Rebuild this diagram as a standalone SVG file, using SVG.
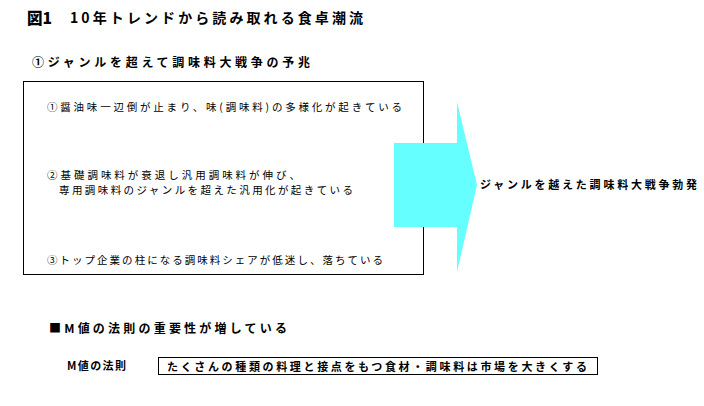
<svg xmlns="http://www.w3.org/2000/svg" width="704" height="406" viewBox="0 0 704 406">
<style>
text{font-family:"Noto Sans CJK JP","Noto Sans",sans-serif;fill:#000;dominant-baseline:central}
.t{font-size:14px;font-weight:bold}
.h{font-size:12px;font-weight:bold}
.b{font-size:10.5px}
.r{font-size:11px;font-weight:bold}
.box{fill:#fff;stroke:#000;stroke-width:1}
</style>
<rect width="704" height="406" fill="#fff"/>
<g id="title">
<text class="t" x="27" y="17" style="font-size:16px;font-weight:900" textLength="25" lengthAdjust="spacingAndGlyphs">図1</text>
<text class="t" x="70" y="17" textLength="293" lengthAdjust="spacing">10年トレンドから読み取れる食卓潮流</text>
</g>
<g id="heading1">
<text class="h" x="32" y="61" textLength="278" lengthAdjust="spacing">①ジャンルを超えて調味料大戦争の予兆</text>
</g>
<g id="trend-box">
<rect class="box" x="23.5" y="81.5" width="400" height="193"/>
<text class="b" x="47" y="106" textLength="355" lengthAdjust="spacing">①醤油味一辺倒が止まり、味(調味料)の多様化が起きている</text>
<text class="b" x="47" y="174" textLength="253" lengthAdjust="spacing">②基礎調味料が衰退し汎用調味料が伸び、</text>
<text class="b" x="59" y="189" textLength="294" lengthAdjust="spacing">専用調味料のジャンルを超えた汎用化が起きている</text>
<text class="b" x="47" y="259" textLength="336" lengthAdjust="spacing">③トップ企業の柱になる調味料シェアが低迷し、落ちている</text>
</g>
<g id="connectors">
<polygon points="394,143 457,143 457,102 477,185 457,272 457,227 394,227" fill="#66FFFF"/>
</g>
<g id="result">
<text class="r" x="480" y="184" textLength="217" lengthAdjust="spacing">ジャンルを越えた調味料大戦争勃発</text>
</g>
<g id="heading2">
<text class="h" x="49" y="327" textLength="238" lengthAdjust="spacing">■M値の法則の重要性が増している</text>
</g>
<g id="m-label">
<text class="r" x="67" y="365" textLength="59" lengthAdjust="spacing">M値の法則</text>
</g>
<g id="m-box">
<rect class="box" x="158.5" y="357.5" width="439" height="17"/>
<text class="r" x="167" y="366" textLength="420" lengthAdjust="spacing">たくさんの種類の料理と接点をもつ食材・調味料は市場を大きくする</text>
</g>
</svg>
